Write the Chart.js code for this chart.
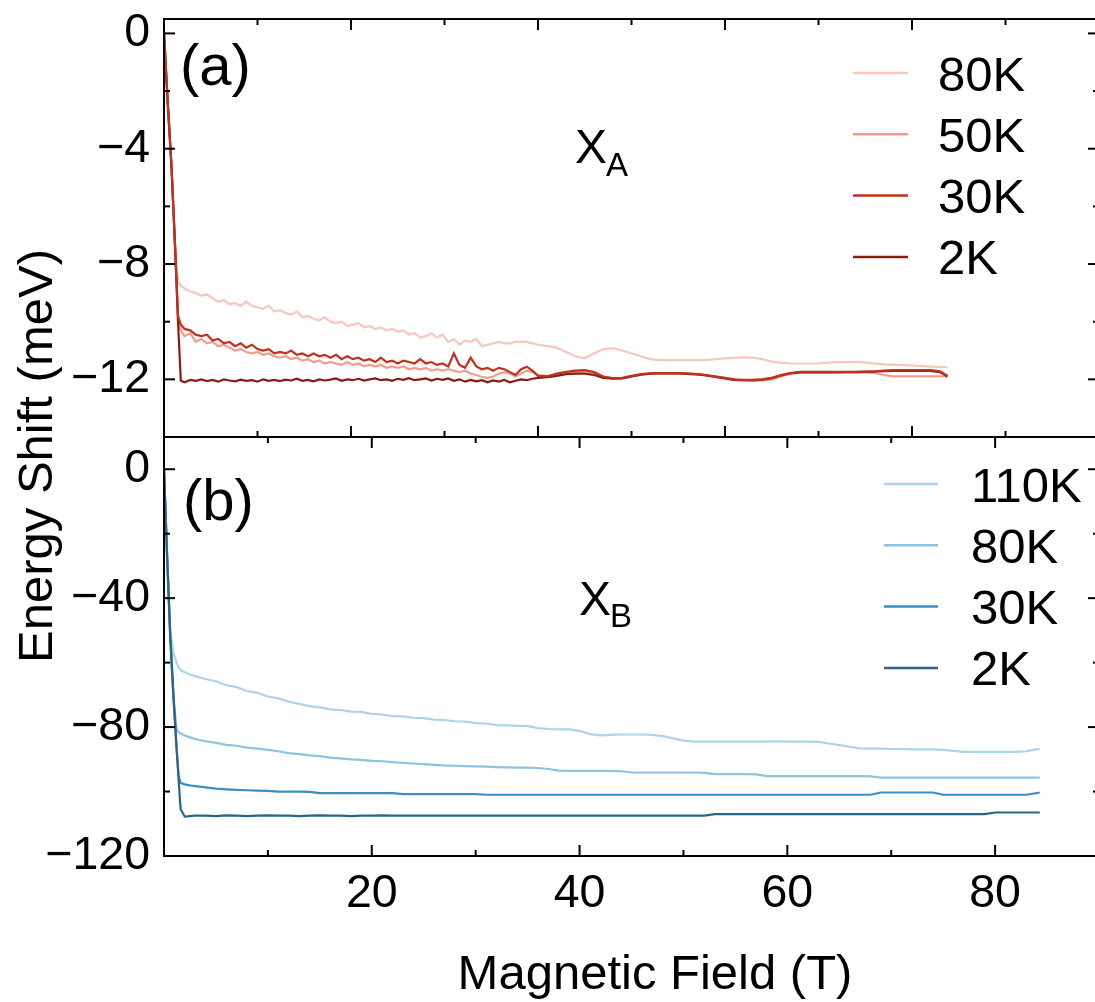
<!DOCTYPE html>
<html>
<head>
<meta charset="utf-8">
<title>Energy shift vs magnetic field</title>
<script src="https://cdn.jsdelivr.net/npm/chart.js@4.4.1/dist/chart.umd.min.js"></script>
<style>
  html, body { margin: 0; padding: 0; background: #fff; overflow: hidden; width: 1095px; height: 1002px; }
  canvas { position: absolute; left: 0; top: 0; }
</style>
</head>
<body>
<canvas id="panelA" width="1110" height="440"></canvas>
<canvas id="panelB" width="1110" height="1002"></canvas>
<script>
// ---------- panel (a): X_A exciton ----------
const fieldA = [
  0, 0.4, 0.8, 1.2, 1.5, 1.8, 2.2, 2.8, 3.4, 4.0,
  4.6, 5.2, 5.8, 6.4, 7.0, 7.6, 8.2, 8.8, 9.4, 10.0,
  10.6, 11.2, 11.8, 12.4, 13.0, 13.6, 14.2, 14.8, 15.4, 16.0,
  16.6, 17.2, 17.8, 18.4, 19.0, 19.6, 20.2, 20.8, 21.4, 22.0,
  22.6, 23.2, 23.8, 24.4, 25.0, 25.6, 26.2, 26.8, 27.4, 28.0,
  28.6, 29.2, 29.8, 30.4, 31.0, 31.6, 32.2, 32.8, 33.4, 34.0,
  34.6, 35.2, 35.8, 36.4, 37.0, 37.6, 38.2, 38.8, 39.4, 40.0,
  41, 42, 43, 44, 45, 46, 47, 48, 49, 50,
  51, 52, 53, 54, 55, 56, 57, 58, 59, 60,
  61, 62, 63, 64, 65, 66, 67, 68, 69, 70,
  71, 72, 73, 74, 75, 76, 77, 78, 79, 80,
  81, 82, 83, 83.8
];
const shiftA80 = [
  0, -2.4, -4.6, -7.5, -8.6, -8.75, -8.85, -8.95, -9.0, -9.1,
  -9.05, -9.2, -9.3, -9.25, -9.4, -9.35, -9.45, -9.3, -9.45, -9.5,
  -9.55, -9.45, -9.65, -9.6, -9.7, -9.75, -9.65, -9.85, -9.8, -9.9,
  -9.95, -9.85, -10.0, -10.05, -10.0, -10.15, -10.1, -10.05, -10.2, -10.15,
  -10.25, -10.2, -10.3, -10.25, -10.35, -10.3, -10.45, -10.4, -10.55, -10.5,
  -10.4, -10.55, -10.45, -10.7, -10.6, -10.8, -10.65, -10.7, -10.6, -10.85,
  -10.8, -10.75, -10.7, -10.75, -10.75, -10.7, -10.7, -10.7, -10.75, -10.8,
  -10.85, -10.9, -11.05, -11.2, -11.27, -11.1, -10.95, -10.92, -11.0, -11.1,
  -11.2, -11.3, -11.33, -11.33, -11.33, -11.33, -11.33, -11.33, -11.3, -11.27,
  -11.25, -11.24, -11.25, -11.3, -11.38, -11.43, -11.45, -11.45, -11.45, -11.45,
  -11.42, -11.4, -11.4, -11.39, -11.42, -11.45, -11.48, -11.5, -11.5, -11.52,
  -11.54, -11.56, -11.57, -11.58
];
const shiftA50 = [
  0, -2.4, -4.6, -7.5, -9.9, -10.3, -10.5, -10.4, -10.7, -10.6,
  -10.75, -10.7, -10.85, -10.8, -10.9, -11.0, -10.95, -11.05, -11.1, -11.05,
  -11.15, -11.1, -11.2, -11.25, -11.2, -11.3, -11.25, -11.35, -11.3, -11.4,
  -11.35, -11.45, -11.4, -11.45, -11.5, -11.4, -11.5, -11.45, -11.55, -11.5,
  -11.55, -11.5, -11.6, -11.55, -11.6, -11.55, -11.65, -11.6, -11.65, -11.6,
  -11.7, -11.65, -11.7, -11.65, -11.7, -11.75, -11.7, -11.8, -11.85, -11.92,
  -11.95, -11.9, -11.8, -11.75, -11.8, -11.9, -11.8, -11.7, -11.75, -11.85,
  -11.88, -11.85, -11.78, -11.74, -11.72, -11.78, -11.92, -11.98, -11.97, -11.9,
  -11.84, -11.8, -11.8, -11.8, -11.8, -11.8, -11.82, -11.86, -11.92, -11.97,
  -12.02, -12.04, -12.05, -12.04, -12.0, -11.9, -11.8, -11.76, -11.76, -11.76,
  -11.76, -11.76, -11.76, -11.76, -11.76, -11.78, -11.85, -11.9, -11.9, -11.9,
  -11.9, -11.9, -11.9, -11.9
];
const shiftA30 = [
  0, -2.4, -4.6, -7.5, -9.8, -10.1, -10.25, -10.3, -10.45, -10.5,
  -10.45, -10.65, -10.6, -10.75, -10.7, -10.85, -10.75, -10.9, -10.8, -10.95,
  -11.0, -10.95, -11.1, -11.05, -11.1, -11.0, -11.15, -11.1, -11.2, -11.1,
  -11.2, -11.15, -11.25, -11.15, -11.3, -11.2, -11.3, -11.25, -11.35, -11.3,
  -11.4, -11.25, -11.4, -11.35, -11.45, -11.35, -11.4, -11.45, -11.3, -11.45,
  -11.4, -11.5, -11.45, -11.55, -11.1, -11.5, -11.6, -11.25, -11.55, -11.65,
  -11.6, -11.7, -11.6, -11.65, -11.75, -11.85, -11.65, -11.56, -11.7, -11.88,
  -11.9, -11.8, -11.74, -11.7, -11.68, -11.75, -11.9, -11.96, -11.95, -11.88,
  -11.82, -11.79, -11.78, -11.78, -11.78, -11.8, -11.82, -11.85, -11.9, -11.95,
  -12.0, -12.02, -12.02, -12.0, -11.95, -11.85, -11.78, -11.74, -11.74, -11.74,
  -11.74, -11.74, -11.74, -11.74, -11.73, -11.72, -11.7, -11.68, -11.68, -11.68,
  -11.68, -11.68, -11.72, -11.88
];
const shiftA2 = [
  0, -2.4, -4.6, -7.5, -10.0, -12.05, -12.1, -12.02, -12.05, -12.0,
  -12.06, -12.02, -12.08, -12.0, -12.04, -12.07, -12.01, -12.05, -12.03, -12.08,
  -12.0, -12.05, -12.02, -12.06, -12.01, -12.04, -11.98, -12.05, -12.02, -12.07,
  -12.0, -12.04, -12.01, -11.97, -12.05, -12.0, -12.03, -11.98, -12.04, -12.0,
  -11.97, -12.03, -12.0, -12.05, -11.98, -12.02, -11.96, -12.03, -12.0, -11.97,
  -12.04, -11.98, -12.02, -11.97, -12.05, -12.0, -12.08, -12.02, -12.07, -12.03,
  -12.1, -12.04, -12.08, -12.02, -12.1, -12.05, -12.0, -12.03, -11.98, -11.95,
  -11.92, -11.88, -11.82, -11.8, -11.8, -11.85, -11.95, -11.98, -11.97, -11.9,
  -11.84, -11.8, -11.79, -11.79, -11.79, -11.81, -11.83, -11.86, -11.92, -11.97,
  -12.02, -12.03, -12.03, -12.01, -11.96, -11.86, -11.79, -11.76, -11.76, -11.76,
  -11.76, -11.76, -11.75, -11.75, -11.74, -11.73, -11.72, -11.71, -11.71, -11.71,
  -11.71, -11.71, -11.75, -11.9
];
const labelsA = ['80K', '50K', '30K', '2K'];
const coloursA = ['#f8c6bd', '#ef9d8b', '#c1311d', '#861e13'];
const drawOrderA = [3, 2, 0, 1];
const xRangeA = [0, 100];
const yRangeA = [-14, 0.5];
const xMajorA = [20, 40, 60, 80];
const xMinorA = [10, 30, 50, 70, 90];
const yMajorA = [-12, -8, -4, 0];
const yLabelsA = ['\u221212', '\u22128', '\u22124', '0'];
const yMinorA = [-10, -6, -2];

// ---------- panel (b): X_B exciton ----------
const fieldB = [
  0, 0.3, 0.6, 0.9, 1.2, 1.4, 1.6, 2, 2.5, 3,
  4, 5, 6, 7, 8, 9, 10, 11, 12, 13,
  14, 15, 16, 17, 18, 19, 20, 21, 22, 23,
  24, 25, 26, 27, 28, 29, 30, 31, 32, 33,
  34, 35, 36, 37, 38, 39, 40, 41, 42, 43,
  44, 45, 46, 47, 48, 49, 50, 51, 52, 53,
  54, 55, 56, 57, 58, 59, 60, 61, 62, 63,
  64, 65, 66, 67, 68, 69, 70, 71, 72, 73,
  74, 75, 76, 77, 78, 79, 80, 81, 82, 83,
  84.3
];
const shiftB110 = [
  0, -27, -50, -57, -60, -61.5, -62.3, -63, -63.7, -64.2,
  -65.1, -65.8, -67.0, -67.6, -68.8, -69.4, -70.5, -71.1, -72.1, -72.8,
  -73.5, -73.9, -74.5, -74.7, -75.2, -75.3, -75.9, -76.1, -76.6, -76.7,
  -77.1, -77.2, -77.7, -77.8, -78.2, -78.3, -78.8, -78.9, -79.4, -79.5,
  -79.6, -79.7, -80.3, -80.6, -80.7, -80.7, -81.2, -82.2, -82.6, -82.4,
  -82.3, -82.3, -82.3, -82.4, -82.8, -83.5, -84.2, -84.5, -84.5, -84.5,
  -84.5, -84.5, -84.5, -84.5, -84.5, -84.4, -84.5, -84.5, -84.5, -84.6,
  -85.1, -85.6, -86.1, -86.6, -86.7, -86.7, -86.8, -86.8, -86.9, -86.9,
  -86.9, -87.1, -87.4, -87.7, -87.7, -87.7, -87.7, -87.7, -87.7, -87.5,
  -86.7
];
const shiftB80 = [
  0, -27, -50, -70, -80.5, -81.5, -82.0, -82.6, -83.2, -83.7,
  -84.4, -84.9, -85.5, -85.8, -86.4, -86.7, -87.1, -87.5, -88.1, -88.4,
  -88.8, -89.0, -89.5, -89.7, -90.0, -90.2, -90.5, -90.6, -90.9, -91.1,
  -91.3, -91.5, -91.7, -91.9, -92.0, -92.1, -92.2, -92.3, -92.4, -92.5,
  -92.6, -92.6, -92.7, -93.0, -93.5, -93.6, -93.6, -93.6, -93.6, -93.6,
  -93.7, -94.1, -94.1, -94.1, -94.1, -94.1, -94.1, -94.1, -94.2, -94.6,
  -94.6, -94.6, -94.6, -94.7, -95.2, -95.2, -95.2, -95.2, -95.2, -95.2,
  -95.2, -95.2, -95.2, -95.2, -95.3, -95.7, -95.7, -95.7, -95.7, -95.7,
  -95.7, -95.7, -95.7, -95.7, -95.7, -95.7, -95.7, -95.7, -95.7, -95.7,
  -95.7
];
const shiftB30 = [
  0, -27, -52, -70, -86, -95, -97.3, -97.8, -98.1, -98.3,
  -98.7, -99.1, -99.3, -99.5, -99.6, -99.7, -99.8, -100.0, -100.0, -100.0,
  -100.1, -100.5, -100.5, -100.5, -100.5, -100.5, -100.5, -100.5, -100.5, -100.8,
  -100.8, -100.8, -100.8, -100.8, -100.8, -100.8, -100.8, -101.0, -101.0, -101.0,
  -101.0, -101.0, -101.0, -101.0, -101.0, -101.0, -101.0, -101.0, -101.0, -101.0,
  -101.0, -101.0, -101.0, -101.0, -101.0, -101.0, -101.0, -101.0, -101.0, -101.0,
  -101.0, -101.0, -101.0, -101.0, -101.0, -101.0, -101.0, -101.0, -101.0, -101.0,
  -101.0, -101.0, -101.0, -101.0, -101.0, -100.3, -100.3, -100.3, -100.3, -100.3,
  -100.3, -101.0, -101.0, -101.0, -101.0, -101.0, -101.0, -101.0, -101.0, -101.0,
  -100.3
];
const shiftB2 = [
  0, -27, -52, -70, -86, -96, -105.5, -107.8, -107.6, -107.5,
  -107.5, -107.6, -107.4, -107.5, -107.6, -107.5, -107.4, -107.5, -107.5, -107.6,
  -107.5, -107.4, -107.5, -107.5, -107.6, -107.5, -107.5, -107.4, -107.5, -107.5,
  -107.5, -107.5, -107.5, -107.5, -107.5, -107.5, -107.5, -107.5, -107.5, -107.5,
  -107.5, -107.5, -107.5, -107.5, -107.5, -107.5, -107.5, -107.5, -107.5, -107.5,
  -107.5, -107.5, -107.5, -107.5, -107.5, -107.5, -107.5, -107.5, -107.5, -107.0,
  -107.0, -107.0, -107.0, -107.0, -107.0, -107.0, -107.0, -107.0, -107.0, -107.0,
  -107.0, -107.0, -107.0, -107.0, -107.0, -107.0, -107.0, -107.0, -107.0, -107.0,
  -107.0, -107.0, -107.0, -107.0, -107.0, -107.0, -106.5, -106.5, -106.5, -106.5,
  -106.5
];
const labelsB = ['110K', '80K', '30K', '2K'];
const coloursB = ['#acd3ec', '#8fc1e2', '#3a8ec6', '#2b6586'];
const drawOrderB = [3, 2, 1, 0];
const xRangeB = [0, 90];
const yRangeB = [-120, 10];
const xMajorB = [20, 40, 60, 80];
const xLabelsB = ['20', '40', '60', '80'];
const xMinorB = [10, 30, 50, 70];
const yMajorB = [-120, -80, -40, 0];
const yLabelsB = ['\u2212120', '\u221280', '\u221240', '0'];
const yMinorB = [-100, -60, -20];

// ---------- shared drawing helpers ----------
const FONT = "'Liberation Sans', Arial, Helvetica, sans-serif";
Chart.defaults.font.family = FONT;
Chart.defaults.color = '#000';

function toPoints(xs, ys) {
  return xs.map((x, i) => ({ x: x, y: ys[i] }));
}

// axis boxes keep a fixed size and add no extra label overflow padding
function fixWidth(w) {
  return s => { s.width = w; s.paddingTop = 0; s.paddingBottom = 0; s.paddingLeft = 0; s.paddingRight = 0; };
}
function fixHeight(h) {
  return s => { s.height = h; s.paddingTop = 0; s.paddingBottom = 0; s.paddingLeft = 0; s.paddingRight = 0; };
}

// box around the plot with inward-pointing ticks on all four sides
const frameTicks = {
  id: 'frameTicks',
  afterDatasetsDraw(chart, args, o) {
    const ctx = chart.ctx;
    const a = chart.chartArea;
    const xs = chart.scales.x, ys = chart.scales.y;
    const seg = (x1, y1, x2, y2) => { ctx.beginPath(); ctx.moveTo(x1, y1); ctx.lineTo(x2, y2); ctx.stroke(); };
    ctx.save();
    ctx.strokeStyle = '#000';
    ctx.lineWidth = 2;
    ctx.lineCap = 'butt';
    ctx.strokeRect(a.left, a.top, a.right - a.left, a.bottom - a.top);
    const drawX = (vals, len) => vals.forEach(v => {
      const p = xs.getPixelForValue(v);
      seg(p, a.bottom, p, a.bottom - len);
      seg(p, a.top, p, a.top + len);
    });
    const drawY = (vals, len) => vals.forEach(v => {
      const p = ys.getPixelForValue(v);
      seg(a.left, p, a.left + len, p);
      seg(a.right, p, a.right - len, p);
    });
    drawX(o.xMajor, 11); drawX(o.xMinor, 6);
    drawY(o.yMajor, 11); drawY(o.yMinor, 6);
    ctx.restore();
  }
};

// panel tag, exciton label with subscript, legend and free axis titles
const panelText = {
  id: 'panelText',
  afterDraw(chart, args, o) {
    const ctx = chart.ctx;
    ctx.save();
    ctx.fillStyle = '#000';
    ctx.textAlign = 'left';
    ctx.textBaseline = 'alphabetic';

    ctx.font = o.tag.size + 'px ' + FONT;
    ctx.fillText(o.tag.text, o.tag.x, o.tag.y);

    const ex = o.exciton;
    ctx.font = ex.size + 'px ' + FONT;
    ctx.fillText(ex.main, ex.x, ex.y);
    const w = ctx.measureText(ex.main).width;
    ctx.font = ex.subSize + 'px ' + FONT;
    ctx.fillText(ex.sub, ex.x + w - 1, ex.y + ex.subDrop);

    const L = o.legend;
    ctx.font = L.size + 'px ' + FONT;
    chart.data.datasets.forEach((ds, i) => {
      const y = L.top + i * L.gap;
      ctx.strokeStyle = ds.borderColor;
      ctx.lineWidth = 2.5;
      ctx.beginPath(); ctx.moveTo(L.x0, y); ctx.lineTo(L.x1, y); ctx.stroke();
      ctx.fillText(ds.label, L.textX, y + L.size * 0.358);
    });

    if (o.xTitle) {
      ctx.font = o.xTitle.size + 'px ' + FONT;
      ctx.textAlign = 'center';
      ctx.fillText(o.xTitle.text, o.xTitle.x, o.xTitle.y);
    }
    if (o.yTitle) {
      ctx.font = o.yTitle.size + 'px ' + FONT;
      ctx.textAlign = 'center';
      ctx.translate(o.yTitle.x, o.yTitle.y);
      ctx.rotate(-Math.PI / 2);
      ctx.fillText(o.yTitle.text, 0, 0);
    }
    ctx.restore();
  }
};

function makeDatasets(xs, seriesList, labels, colours, order) {
  return seriesList.map((ys, i) => ({
    label: labels[i],
    data: toPoints(xs, ys),
    borderColor: colours[i],
    backgroundColor: colours[i],
    borderWidth: 2.2,
    pointRadius: 0,
    tension: 0,
    fill: false,
    order: order[i]
  }));
}

const tickFont = { size: 46.5, family: FONT };

// ---------- panel (a) ----------
new Chart(document.getElementById('panelA'), {
  type: 'line',
  data: { datasets: makeDatasets(fieldA, [shiftA80, shiftA50, shiftA30, shiftA2], labelsA, coloursA, drawOrderA) },
  options: {
    responsive: false,
    animation: false,
    devicePixelRatio: 1,
    events: [],
    layout: { padding: { top: 19, right: 11, bottom: 3, left: 0 } },
    plugins: {
      legend: { display: false },
      tooltip: { enabled: false },
      frameTicks: { xMajor: xMajorA, xMinor: xMinorA, yMajor: yMajorA, yMinor: yMinorA },
      panelText: {
        tag: { text: '(a)', x: 180, y: 85, size: 58 },
        exciton: { main: 'X', sub: 'A', x: 575, y: 163, size: 48, subSize: 33, subDrop: 13 },
        legend: { x0: 853, x1: 908, textX: 938, top: 73, gap: 61.3, size: 49 }
      }
    },
    scales: {
      x: { type: 'linear', min: xRangeA[0], max: xRangeA[1], display: false },
      y: {
        type: 'linear', min: yRangeA[0], max: yRangeA[1],
        afterFit: fixWidth(164),
        afterBuildTicks: s => { s.ticks = yMajorA.map(v => ({ value: v })); },
        grid: { display: false, drawTicks: false },
        border: { display: false },
        ticks: { font: tickFont, color: '#000', padding: 14, callback: (v, i) => yLabelsA[i] }
      }
    }
  },
  plugins: [frameTicks, panelText]
});

// ---------- panel (b) ----------
new Chart(document.getElementById('panelB'), {
  type: 'line',
  data: { datasets: makeDatasets(fieldB, [shiftB110, shiftB80, shiftB30, shiftB2], labelsB, coloursB, drawOrderB) },
  options: {
    responsive: false,
    animation: false,
    devicePixelRatio: 1,
    events: [],
    layout: { padding: { top: 437, right: 11, bottom: 0, left: 0 } },
    plugins: {
      legend: { display: false },
      tooltip: { enabled: false },
      frameTicks: { xMajor: xMajorB, xMinor: xMinorB, yMajor: yMajorB, yMinor: yMinorB },
      panelText: {
        tag: { text: '(b)', x: 183, y: 520, size: 58 },
        exciton: { main: 'X', sub: 'B', x: 579, y: 615, size: 48, subSize: 33, subDrop: 12 },
        legend: { x0: 884, x1: 938, textX: 971, top: 484, gap: 61.3, size: 49 },
        xTitle: { text: 'Magnetic Field (T)', x: 655, y: 989, size: 49 },
        yTitle: { text: 'Energy Shift (meV)', x: 52, y: 456, size: 49 }
      }
    },
    scales: {
      x: {
        type: 'linear', min: xRangeB[0], max: xRangeB[1],
        afterFit: fixHeight(146),
        afterBuildTicks: s => { s.ticks = xMajorB.map(v => ({ value: v })); },
        grid: { display: false, drawTicks: false },
        border: { display: false },
        ticks: { font: tickFont, color: '#000', padding: 10, autoSkip: false, maxRotation: 0, callback: (v, i) => xLabelsB[i] }
      },
      y: {
        type: 'linear', min: yRangeB[0], max: yRangeB[1],
        afterFit: fixWidth(164),
        afterBuildTicks: s => { s.ticks = yMajorB.map(v => ({ value: v })); },
        grid: { display: false, drawTicks: false },
        border: { display: false },
        ticks: { font: tickFont, color: '#000', padding: 14, callback: (v, i) => yLabelsB[i] }
      }
    }
  },
  plugins: [frameTicks, panelText]
});
</script>
</body>
</html>
